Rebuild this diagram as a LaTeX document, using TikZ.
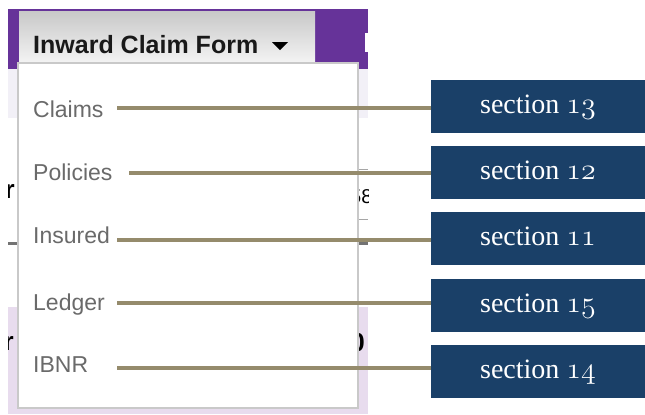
\RequirePackage{fix-cm}
\documentclass[tikz,border=0pt]{standalone}
\usepackage{fontspec}
\newfontfamily\uifont{Liberation Sans}
\newfontfamily\secfont{Liberation Serif}
\usetikzlibrary{calc}

\definecolor{menupurple}{HTML}{663399}
\definecolor{bandgray}{HTML}{F2F0F7}
\definecolor{lilac}{HTML}{E8DCEE}
\definecolor{tabtop}{HTML}{C8C8C8}
\definecolor{tabbottom}{HTML}{F4F4F4}
\definecolor{boxgray}{HTML}{C9C9C9}
\definecolor{itemgray}{HTML}{6A6A6A}
\definecolor{leadkhaki}{HTML}{958B6C}
\definecolor{secblue}{HTML}{1A4068}

\newcommand\osnum[1]{{\fontsize{30bp}{36bp}\usefont{OML}{cmm}{m}{it}#1}} % old style figures

\begin{document}
\begin{tikzpicture}[x=1bp,y=-1bp,
  item/.style={anchor=base west,inner sep=0pt,text=itemgray,
    font=\uifont\fontsize{23bp}{27bp}\selectfont},
  secbox/.style={fill=secblue,minimum width=214bp,minimum height=53bp,inner sep=0pt},
  sectext/.style={anchor=base,inner sep=0pt,text=white,
    font=\secfont\fontsize{28bp}{32bp}\selectfont},
  lead/.style={draw=leadkhaki,line width=3.2bp},
  frag/.style={inner sep=0pt,font=\uifont\bfseries\fontsize{26bp}{30bp}\selectfont}]
 \useasboundingbox (0,0) rectangle (645,414);

 % page behind the menu
 \fill[menupurple] (8,9) rectangle (368,69);
 \fill[bandgray] (8,69) rectangle (368,118);
 \fill[lilac] (8,307) rectangle (368,414);
 \fill[white] (365,33) rectangle (368,52);
 \begin{scope}
  \clip (8,120) rectangle (18,400);
  \node[frag,anchor=base east] (rtop) at (15,198) {r};
  \node[frag,anchor=base east] (rlow) at (14,350) {r};
  \fill[black!55] (8,242) rectangle (17,245);
 \end{scope}
 \begin{scope}
  \clip (358,120) rectangle (368,400);
  \draw[black!35] (358,169) -- (368,169);
  \draw[black!35] (358,219) -- (368,219);
  \fill[black!55] (358,242) rectangle (368,245);
  \node[frag,font=\uifont\fontsize{20bp}{24bp}\selectfont,anchor=base west] (num) at (350,203) {58};
  \node[frag,anchor=base east] (paren) at (365,351) {0};
 \end{scope}

 % tab
 \shade[top color=tabtop,bottom color=tabbottom] (19,11) rectangle (315,63);
 \node[anchor=base west,inner sep=0pt,text=black!90,
   font=\uifont\bfseries\fontsize{25bp}{29bp}\selectfont] (title) at (33,53) {Inward Claim Form};
 \fill[black] (272,42) -- (288,42) -- (280,50) -- cycle; %drop arrow

 % dropdown
 \draw[boxgray,line width=2bp,fill=white] (18,63) rectangle (358,408);

 % items, sections and leaders
 \foreach \n/\t/\s/\yb/\yl/\sx/\yc in {claims/Claims/13/117/108/117/106.5,
   policies/Policies/12/180/173/129/172.5, insured/Insured/11/243/240/117/238.5,
   ledger/Ledger/15/310/303/117/305.5, ibnr/IBNR/14/372/368/117/371.5}
 {
  \node[item] (\n) at (33,\yb) {\t};
  \node[secbox] (s\s) at (538,\yc) {};
  \node[sectext] (s\s-text) at ($(s\s.center)+(0,6.5)$) {section \osnum{\s}};
  \coordinate (\n-tip) at (\sx,\yl);
  \draw[lead] (\n-tip) -- (s\s.west |- \n-tip);
 }
\end{tikzpicture}
\end{document}
